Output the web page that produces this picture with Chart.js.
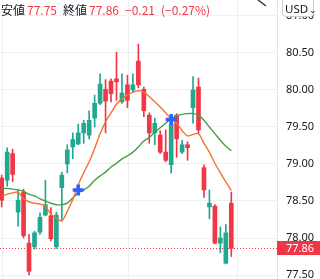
<!DOCTYPE html>
<html>
<head>
<meta charset="utf-8">
<script src="https://cdn.jsdelivr.net/npm/chart.js@4.4.1/dist/chart.umd.min.js"></script>
<style>
    html, body { margin: 0; padding: 0; background: #fff; }
    #wrap { position: relative; width: 320px; height: 279px; overflow: hidden; }
    #legend {
        position: absolute; left: 1px; top: 1px; white-space: nowrap;
        font: 12px "Noto Sans CJK JP", sans-serif; line-height: 18px; color: #131722;
    }
    #legend .v { color: #f23645; }
    #unit {
        position: absolute; left: 282px; top: -6px; width: 32px; height: 23px;
        box-sizing: border-box; border: 1px solid #c9ccd4; border-radius: 4px; background: #fff;
        font: 11.5px "Noto Sans", sans-serif; color: #131722; line-height: 16px;
        padding: 6px 0 0 2px;
    }
    #unit small { font-size: 9px; margin-left: 1px; }
    #pen { position: absolute; left: 256px; top: 0; }
</style>
</head>
<body>
<div id="wrap">
    <canvas id="chart" width="320" height="279"></canvas>
    <div id="legend"><span>安値</span><span class="v" style="margin-left:2px">77.75</span><span style="margin-left:6px">終値</span><span class="v" style="margin-left:2px">77.86</span><span class="v" style="margin-left:6px">−0.21</span><span class="v" style="margin-left:6px">(−0.27%)</span></div>
    <svg id="pen" width="14" height="8"><path d="M2 0 L10 6" stroke="#333" stroke-width="1.4" fill="none"/></svg>
    <div id="unit">USD<small>⌄</small></div>
</div>
<script>
// candles, oldest first
const opens  = [78.81, 78.78, 79.14, 78.35, 78.62, 77.93, 77.88, 78.08, 78.31, 78.30,
                77.88, 78.68, 79.00, 79.23, 79.27, 79.42, 79.39, 79.62, 79.82, 80.01,
                80.12, 80.15, 79.84, 80.07, 80.00, 80.39, 80.01, 79.66, 79.42, 79.39,
                79.16, 78.99, 79.66, 79.16, 79.26, 79.76, 80.04, 78.95, 78.42, 78.43,
                77.93, 77.66, 78.47];
const highs  = [78.85, 79.22, 79.20, 78.65, 78.66, 78.05, 78.09, 78.34, 78.78, 78.41,
                78.35, 78.89, 79.26, 79.42, 79.54, 79.59, 79.72, 79.93, 80.22, 80.14,
                80.15, 80.51, 80.22, 80.20, 80.22, 80.62, 80.04, 79.69, 79.62, 79.45,
                79.46, 79.64, 79.68, 79.32, 79.30, 80.18, 80.16, 78.99, 78.65, 78.45,
                78.15, 78.18, 78.62];
const lows   = [78.42, 78.70, 78.76, 78.16, 78.00, 77.50, 77.85, 78.05, 78.30, 77.96,
                77.86, 78.23, 78.88, 79.07, 79.26, 79.28, 79.34, 79.50, 79.80, 79.42,
                79.84, 79.86, 79.82, 79.76, 79.97, 80.03, 79.64, 79.28, 79.26, 79.14,
                79.03, 78.88, 79.09, 79.14, 79.05, 79.55, 79.42, 78.55, 78.26, 77.92,
                77.80, 77.65, 77.75];
const closes = [78.51, 79.16, 78.86, 78.51, 78.03, 77.55, 78.07, 78.28, 78.45, 77.99,
                78.31, 78.85, 79.19, 79.33, 79.42, 79.55, 79.59, 79.82, 80.08, 79.85,
                79.95, 80.11, 79.96, 79.86, 80.07, 80.07, 79.72, 79.42, 79.55, 79.16,
                79.05, 79.54, 79.34, 79.26, 79.22, 80.00, 79.46, 78.65, 78.47, 77.93,
                78.00, 78.07, 77.86];

// moving averages
const maFast = [78.57, 78.59, 78.61, 78.62, 78.53, 78.49, 78.47, 78.46, 78.43, 78.32,
                78.27, 78.23, 78.36, 78.52, 78.72, 78.88, 79.03, 79.21, 79.41, 79.57,
                79.69, 79.81, 79.88, 79.93, 79.97, 79.99, 79.97, 79.91, 79.84, 79.77,
                79.69, 79.61, 79.55, 79.45, 79.38, 79.40, 79.41, 79.28, 79.16, 79.01,
                78.88, 78.76, 78.64];
const maSlow = [78.67, 78.67, 78.66, 78.65, 78.63, 78.59, 78.57, 78.53, 78.50, 78.47,
                78.45, 78.45, 78.47, 78.54, 78.61, 78.65, 78.70, 78.78, 78.84, 78.89,
                78.96, 79.01, 79.07, 79.11, 79.16, 79.23, 79.31, 79.36, 79.43, 79.49,
                79.55, 79.61, 79.65, 79.67, 79.68, 79.68, 79.66, 79.59, 79.50, 79.41,
                79.32, 79.24, 79.18];

// cross signals
const crossIdx = [14, 31];
const crossVal = [78.65, 79.60];

const yTicks = [77.5, 78.0, 78.5, 79.0, 79.5, 80.0, 80.5, 81.0];
const dayBreaks = [0.2, 23.2, 43.1];

const UP = '#22a88f';
const DOWN = '#f23645';
const GRID = '#eef0f4';

const bars = opens.map((_, i) => i);
const candleColor = ctx => closes[ctx.dataIndex] >= opens[ctx.dataIndex] ? UP : DOWN;

// dotted last price line + price tag on the axis
const lastPrice = {
    id: 'lastPrice',
    beforeDatasetsDraw(chart) {
        const { ctx, chartArea: a, scales: { y } } = chart;
        const py = Math.round(y.getPixelForValue(closes[closes.length - 1])) + 0.5;
        ctx.save();
        ctx.strokeStyle = DOWN;
        ctx.lineWidth = 1;
        ctx.setLineDash([1, 2]);
        ctx.beginPath();
        ctx.moveTo(a.left, py);
        ctx.lineTo(a.right, py);
        ctx.stroke();
        ctx.restore();
    },
    afterDraw(chart) {
        const { ctx, chartArea: a, scales: { y } } = chart;
        const last = closes[closes.length - 1];
        const py = Math.round(y.getPixelForValue(last));
        ctx.save();
        ctx.fillStyle = DOWN;
        ctx.fillRect(a.right, py - 7, chart.width - a.right, 14);
        ctx.fillStyle = '#fff';
        ctx.font = '11px "Noto Sans", sans-serif';
        ctx.textBaseline = 'middle';
        ctx.fillText(last.toFixed(2), a.right + 9, py + 0.5);
        ctx.restore();
    }
};

new Chart(document.getElementById('chart'), {
    type: 'bar',
    data: {
        datasets: [
            {
                type: 'line',
                data: bars.map(i => ({ x: i, y: crossVal[crossIdx.indexOf(i)] })).filter(p => p.y !== undefined),
                showLine: false,
                pointStyle: 'cross',
                pointRadius: 5.5,
                pointBorderWidth: 3.5,
                pointBorderColor: '#2962ff',
                order: 0
            },
            {
                type: 'line',
                data: bars.map(i => ({ x: i, y: maFast[i] })),
                borderColor: '#f7712f',
                borderWidth: 1.4,
                pointRadius: 0,
                tension: 0.25,
                order: 1
            },
            {
                type: 'line',
                data: bars.map(i => ({ x: i, y: maSlow[i] })),
                borderColor: '#45a045',
                borderWidth: 1.4,
                pointRadius: 0,
                tension: 0.25,
                order: 1
            },
            {
                data: bars.map(i => ({ x: i, y: [opens[i], closes[i]] })),
                backgroundColor: candleColor,
                barThickness: 4,
                minBarLength: 1,
                grouped: false,
                order: 2
            },
            {
                data: bars.map(i => ({ x: i, y: [lows[i], highs[i]] })),
                backgroundColor: candleColor,
                barThickness: 1,
                grouped: false,
                order: 3
            }
        ]
    },
    options: {
        responsive: false,
        animation: false,
        devicePixelRatio: 1,
        layout: { padding: 0, autoPadding: false },
        plugins: {
            legend: { display: false },
            tooltip: { enabled: false }
        },
        scales: {
            x: {
                type: 'linear',
                min: -0.31,
                max: 50.36,
                offset: false,
                grid: { color: GRID, drawTicks: false, offset: false },
                border: { display: false },
                ticks: { display: false },
                afterBuildTicks: scale => { scale.ticks = dayBreaks.map(v => ({ value: v })); },
                afterFit: scale => {
                    scale.height = 0;
                    scale.paddingLeft = 0;
                    scale.paddingRight = 0;
                }
            },
            y: {
                position: 'right',
                min: 77.446,
                max: 81.216,
                beginAtZero: false,
                grid: { color: GRID, drawTicks: false },
                border: { display: true, color: '#e0e3eb' },
                ticks: {
                    padding: 9,
                    color: '#131722',
                    font: { family: '"Noto Sans", sans-serif', size: 11 },
                    callback: v => v.toFixed(2)
                },
                afterBuildTicks: scale => { scale.ticks = yTicks.map(v => ({ value: v })); },
                afterFit: scale => {
                    scale.width = 43;
                    scale.paddingTop = 0;
                    scale.paddingBottom = 0;
                }
            }
        }
    },
    plugins: [lastPrice]
});
</script>
</body>
</html>
